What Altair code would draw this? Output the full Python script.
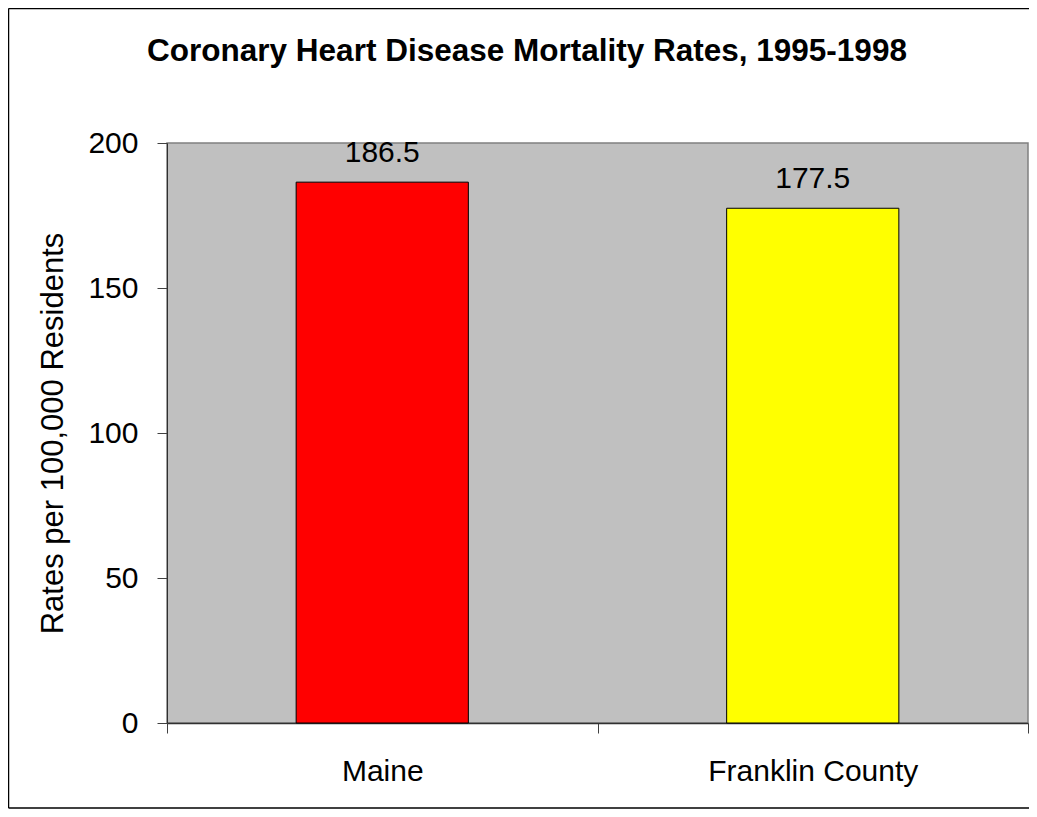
import altair as alt
import pandas as pd

regions = ["Maine", "Franklin County"]
rates = [186.5, 177.5]
colors = ["#FF0000", "#FFFF00"]
labels = ["186.5", "177.5"]
title_text = "Coronary Heart Disease Mortality Rates, 1995-1998"
y_title = "Rates per 100,000 Residents"
y_ticks = [0, 50, 100, 150, 200]

df = pd.DataFrame({"region": regions, "rate": rates, "color": colors, "label": labels})

FONT = "Liberation Sans"

x = alt.X("region:N", sort=regions, title=None,
          scale=alt.Scale(paddingInner=0, paddingOuter=0))
y = alt.Y("rate:Q", title=y_title,
          scale=alt.Scale(domain=[0, 200], nice=False),
          axis=alt.Axis(values=y_ticks))

bars = alt.Chart(df).mark_bar(stroke="black", strokeWidth=1,
                              width=alt.RelativeBandSize(0.4)).encode(
    x=x, y=y, color=alt.Color("color:N", scale=None))

text = alt.Chart(df).mark_text(fontSize=30, font=FONT, color="black", dy=-29,
                               baseline="middle").encode(
    x=alt.X("region:N", sort=regions), y="rate:Q", text="label:N")

title = alt.Chart(pd.DataFrame({"t": [title_text]})).mark_text(
    fontSize=31.5, font=FONT, fontWeight="bold", color="black", baseline="middle", align="center"
).encode(x=alt.value(360), y=alt.value(-91), text="t:N")

bdf = pd.DataFrame({"k": [0]})
border_top = alt.Chart(bdf).mark_rule(color="black", strokeWidth=1.5).encode(
    x=alt.value(-158.5), x2=alt.value(870), y=alt.value(-134.5))
border_bottom = alt.Chart(bdf).mark_rule(color="black", strokeWidth=1.5).encode(
    x=alt.value(-158.5), x2=alt.value(870), y=alt.value(665))
border_left = alt.Chart(bdf).mark_rule(color="black", strokeWidth=1.5).encode(
    x=alt.value(-158.5), y=alt.value(-134.5), y2=alt.value(665))

chart = alt.layer(bars, text, title, border_top, border_bottom, border_left).properties(
    width=861, height=580,
    padding={"left": 159, "top": 135, "right": 1, "bottom": 86},
    autosize=alt.AutoSizeParams(type="none"),
    background="white",
).configure_view(
    stroke="#808080", strokeWidth=1.5, fill="#C0C0C0"
).configure_axis(
    labelFont=FONT, labelFontSize=30, labelColor="black", labelLimit=0,
    titleFont=FONT, titleFontSize=31, titleFontWeight="normal", titleColor="black",
    tickSize=10, tickColor="#404040", domainColor="#303030", grid=False
).configure_axisX(
    labelAngle=0, tickBand="extent", labelPadding=23, domainWidth=1.5
).configure_axisY(
    labelPadding=19, titlePadding=18, domainWidth=1
)

chart.save("out.html", embed_options={"renderer": "svg", "actions": False})
